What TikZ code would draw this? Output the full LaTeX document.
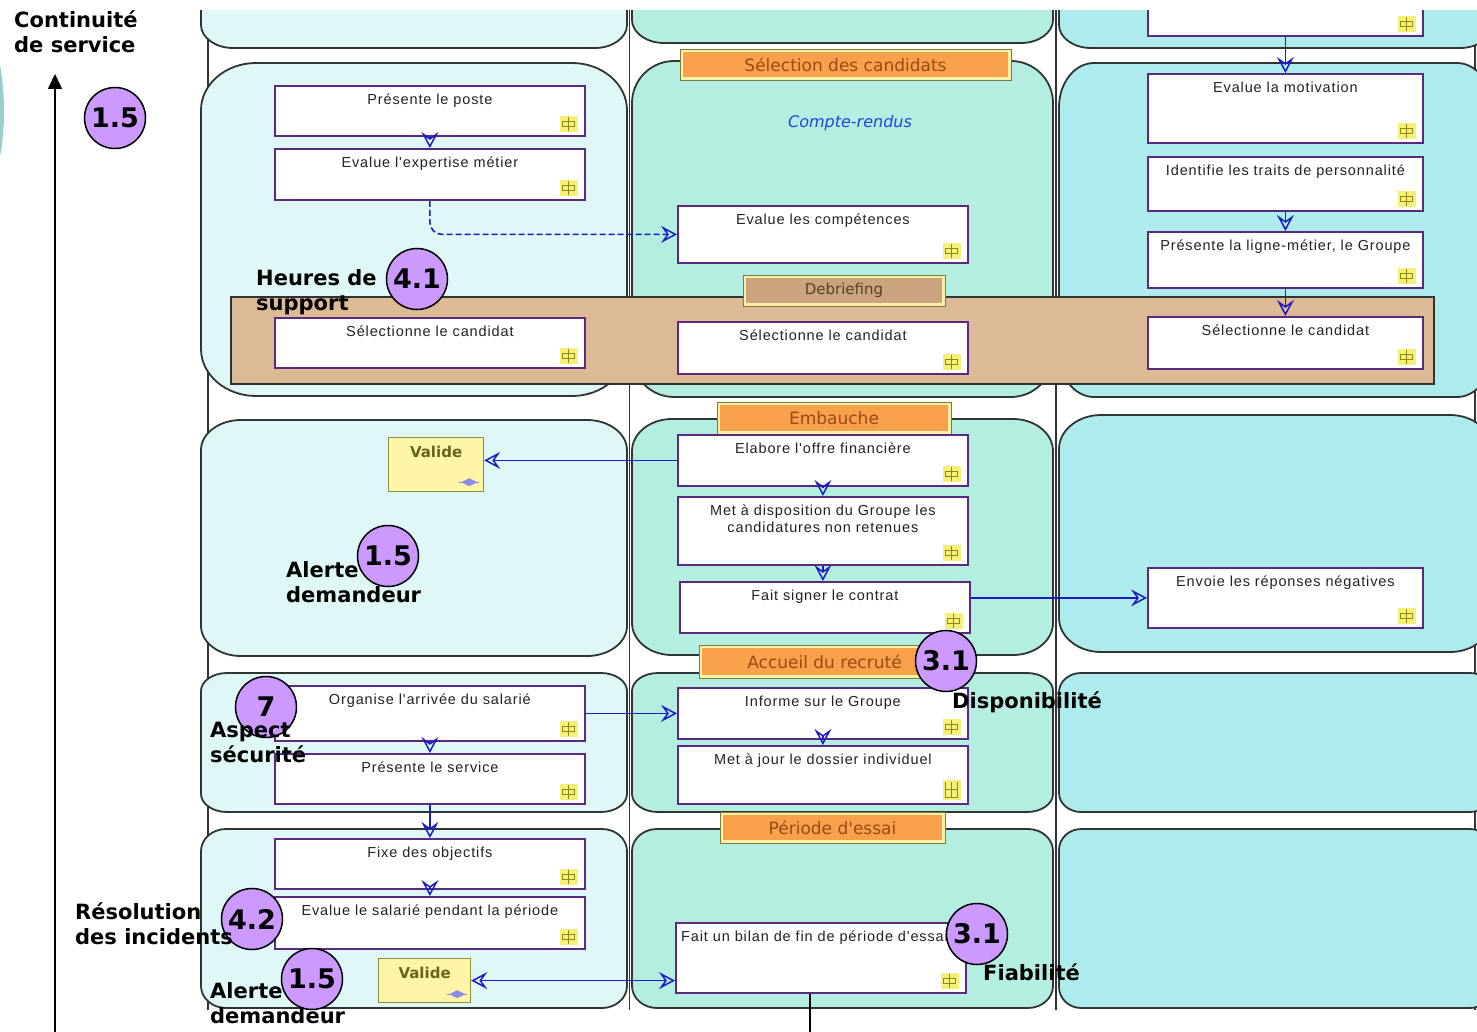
\documentclass[tikz,border=0pt]{standalone}
\usepackage{fontspec}
\setmainfont{Liberation Sans}
\newfontfamily\vera{DejaVu Sans}
\newfontfamily\boxfont[LetterSpace=6]{Liberation Sans}
\usetikzlibrary{arrows.meta}

\definecolor{laneA}{HTML}{DFF7F7}
\definecolor{laneB}{HTML}{B3EEE1}
\definecolor{laneC}{HTML}{AEEBEC}
\definecolor{cellline}{HTML}{2F3535}
\definecolor{bandfill}{HTML}{DDBA96}
\definecolor{actline}{HTML}{5A2A80}
\definecolor{acttextc}{HTML}{222222}
\definecolor{flowblue}{HTML}{1C1CC4}
\definecolor{icofill}{HTML}{F6F07A}
\definecolor{icoline}{HTML}{8C8A10}
\definecolor{hdrframe}{HTML}{FBF1A6}
\definecolor{hdrline}{HTML}{7A7A3A}
\definecolor{hdrorange}{HTML}{F8A04C}
\definecolor{hdrtext}{HTML}{9A4A14}
\definecolor{debfill}{HTML}{C9A47E}
\definecolor{debtext}{HTML}{5A3E22}
\definecolor{validefill}{HTML}{FFF5A6}
\definecolor{valideline}{HTML}{8E8E40}
\definecolor{validetext}{HTML}{66661A}
\definecolor{validicon}{HTML}{8C8CF0}
\definecolor{badgefill}{HTML}{CC99FF}
\definecolor{notetext}{HTML}{2244DD}
\definecolor{edgeteal}{HTML}{9ACFCF}

% rounded cell with elliptic corners: style, x1, y1, x2, y2, rx, ry
\newcommand\lanecell[7]{%
  \draw[#1] (#2+#6,#3) -- (#4-#6,#3)
    .. controls (#4-0.45*#6,#3) and (#4,#3+0.45*#7) .. (#4,#3+#7)
    -- (#4,#5-#7)
    .. controls (#4,#5-0.45*#7) and (#4-0.45*#6,#5) .. (#4-#6,#5)
    -- (#2+#6,#5)
    .. controls (#2+0.45*#6,#5) and (#2,#5-0.45*#7) .. (#2,#5-#7)
    -- (#2,#3+#7)
    .. controls (#2,#3+0.45*#7) and (#2+0.45*#6,#3) .. (#2+#6,#3) -- cycle;}

\tikzset{
  pics/tag/.style={code={
    \fill[icofill] (-9,-8) rectangle (9,8);
    \draw[icoline,line width=1.3pt] (-6,-2.5) rectangle (6,2.5) (0,-7) -- (0,7);}},
  pics/tagmulti/.style={code={
    \fill[icofill] (-9,-10) rectangle (9,10);
    \draw[icoline,line width=1.3pt] (-6,-8) -- (-6,8) -- (6,8) -- (6,-8) (-6,0) -- (6,0) (0,-8) -- (0,8);}},
  pics/vtag/.style={code={
    \fill[validicon] (-8,0) -- (0,-4) -- (8,0) -- (0,4) -- cycle;
    \draw[validicon,line width=1pt] (-10,0) -- (10,0);}}
}

\begin{document}
\begin{tikzpicture}[x=1pt,y=-1pt,
  >={Stealth[open,length=16pt,width=17pt,inset=6pt,line width=1.5pt]},
  cellA/.style={draw=cellline,line width=1.8pt,fill=laneA},
  cellB/.style={draw=cellline,line width=1.8pt,fill=laneB},
  cellC/.style={draw=cellline,line width=1.8pt,fill=laneC},
  divider/.style={draw=cellline,line width=1.3pt},
  band/.style={draw=cellline,line width=1.8pt,fill=bandfill},
  act/.style={draw=actline,fill=white,line width=1.8pt,anchor=north west,inner sep=0pt},
  acttext/.style={anchor=north,yshift=-9pt,inner sep=0pt,
    font=\boxfont\fontsize{14.5}{17}\selectfont,text=acttextc,align=center},
  hdr/.style={draw=hdrline,fill=hdrframe,line width=0.9pt,inner sep=0pt,
    font=\vera\fontsize{17}{19}\selectfont,text=hdrtext,
    path picture={\fill[#1] ([shift={(3pt,-3pt)}]path picture bounding box.north west)
      rectangle ([shift={(-3pt,3pt)}]path picture bounding box.south east);}},
  hdr/.default=hdrorange,
  valide/.style={draw=valideline,fill=validefill,line width=1.2pt,anchor=north west,inner sep=0pt},
  validetxt/.style={anchor=north,yshift=-9pt,inner sep=0pt,
    font=\vera\bfseries\fontsize{15}{17}\selectfont,text=validetext},
  flow/.style={draw=flowblue,line width=1.6pt,->},
  badge/.style={circle,draw=black,line width=1.5pt,fill=badgefill,minimum size=61pt,inner sep=0pt,
    font=\vera\bfseries\fontsize{27}{27}\selectfont},
  remark/.style={anchor=north west,inner sep=0pt,align=left,
    font=\vera\bfseries\fontsize{21}{25}\selectfont}]

\useasboundingbox (0,0) rectangle (1477,1032);

% teal rim at the left edge
\begin{scope}
  \clip (0,0) rectangle (1477,1032);
  \fill[edgeteal] (-262,111) circle (266pt);
\end{scope}

% ---------- swimlane grid ----------
\begin{scope}
  \clip (0,11) rectangle (1477,1032);
  \draw[divider] (208,0) -- (208,1010);
  \draw[divider] (629.5,0) -- (629.5,1010);
  \draw[divider] (1056,0) -- (1056,1010);
  \draw[divider] (1475,0) -- (1475,1010);

  % lane 1
  \lanecell{cellA}{201}{-60}{627}{48}{32}{23}
  \lanecell{cellA}{201}{63}{627}{396}{55}{47}
  \lanecell{cellA}{201}{420}{627}{656}{40}{30}
  \lanecell{cellA}{201}{673}{627}{812}{26}{18}
  \lanecell{cellA}{201}{829}{627}{1008}{25}{22}
  % lane 2
  \lanecell{cellB}{632}{-60}{1053}{43}{32}{23}
  \lanecell{cellB}{632}{61}{1053}{397}{42}{42}
  \lanecell{cellB}{632}{419}{1053}{655}{40}{32}
  \lanecell{cellB}{632}{673}{1053}{812}{26}{18}
  \lanecell{cellB}{632}{829}{1053}{1008}{25}{22}
  % lane 3
  \lanecell{cellC}{1059}{-60}{1492}{48}{32}{23}
  \lanecell{cellC}{1059}{63}{1492}{397}{35}{44}
  \lanecell{cellC}{1059}{415}{1492}{652}{42}{34}
  \lanecell{cellC}{1059}{673}{1492}{812}{22}{19}
  \lanecell{cellC}{1059}{829}{1492}{1008}{22}{21}

  % selection band
  \draw[band] (231,297) rectangle (1434,384);

  % phase headers
  \node[hdr,minimum width=331pt,minimum height=31pt] (h1) at (845.5,64.5) {Sélection des candidats};
  \node[hdr=debfill,minimum width=202pt,minimum height=31pt,text=debtext,
        font=\vera\fontsize{15}{17}\selectfont] (h2) at (844,290.5) {Debriefing};
  \node[hdr,minimum width=234pt,minimum height=32pt] (h3) at (834,418) {Embauche};
  \node[hdr,minimum width=251pt,minimum height=33pt] (h4) at (824.5,661.5) {Accueil du recruté};
  \node[hdr,minimum width=225pt,minimum height=31pt] (h5) at (832.5,827.5) {Période d'essai};

  \node[inner sep=0pt,text=notetext,font=\vera\itshape\fontsize{16}{18}\selectfont] (cr) at (850,123) {Compte-rendus};

  % lane 1 activities
  \node[act,minimum width=310pt,minimum height=50pt,label={[acttext]north:Présente le poste}] (p1) at (274,85) {};
  \node[act,minimum width=310pt,minimum height=51pt,label={[acttext]north:Evalue l'expertise métier}] (p2) at (274,148) {};
  \node[act,minimum width=310pt,minimum height=50pt,label={[acttext]north:Sélectionne le candidat}] (p3) at (274,317) {};
  \node[valide,minimum width=95pt,minimum height=54pt,label={[validetxt]north:Valide}] (v1) at (388,437) {};
  \node[act,minimum width=310pt,minimum height=55pt,label={[acttext]north:Organise l'arrivée du salarié}] (p4) at (274,685) {};
  \node[act,minimum width=310pt,minimum height=50pt,label={[acttext]north:Présente le service}] (p5) at (274,753) {};
  \node[act,minimum width=310pt,minimum height=50pt,label={[acttext]north:Fixe des objectifs}] (p6) at (274,838) {};
  \node[act,minimum width=310pt,minimum height=52pt,label={[acttext]north:Evalue le salarié pendant la période}] (p7) at (274,896) {};
  \node[valide,minimum width=92pt,minimum height=44pt,label={[validetxt]north:Valide}] (v2) at (378,958) {};

  % lane 2 activities
  \node[act,minimum width=290pt,minimum height=57pt,label={[acttext]north:Evalue les compétences}] (m1) at (677,205) {};
  \node[act,minimum width=290pt,minimum height=52pt,label={[acttext]north:Sélectionne le candidat}] (m2) at (677,321) {};
  \node[act,minimum width=290pt,minimum height=51pt,label={[acttext]north:Elabore l'offre financière}] (m3) at (677,434) {};
  \node[act,minimum width=290pt,minimum height=68pt,
        label={[acttext]north:{Met à disposition du Groupe les\\candidatures non retenues}}] (m4) at (677,496) {};
  \node[act,minimum width=290pt,minimum height=51pt,label={[acttext]north:Fait signer le contrat}] (m5) at (679,581) {};
  \node[act,minimum width=290pt,minimum height=51pt,label={[acttext]north:Informe sur le Groupe}] (m6) at (677,687) {};
  \node[act,minimum width=290pt,minimum height=58pt,label={[acttext]north:Met à jour le dossier individuel}] (m7) at (677,745) {};
  \node[act,minimum width=290pt,minimum height=70pt,
        label={[acttext,anchor=north west,xshift=6pt]north west:Fait un bilan de fin de période d'essai}] (m8) at (675,922) {};

  % lane 3 activities
  \node[act,minimum width=275pt,minimum height=50pt] (q0) at (1147,-15) {};
  \node[act,minimum width=275pt,minimum height=69pt,label={[acttext]north:Evalue la motivation}] (q1) at (1147,73) {};
  \node[act,minimum width=275pt,minimum height=54pt,label={[acttext]north:Identifie les traits de personnalité}] (q2) at (1147,156) {};
  \node[act,minimum width=275pt,minimum height=56pt,label={[acttext]north:{Présente la ligne-métier, le Groupe}}] (q3) at (1147,231) {};
  \node[act,minimum width=275pt,minimum height=52pt,label={[acttext]north:Sélectionne le candidat}] (q4) at (1147,316) {};
  \node[act,minimum width=275pt,minimum height=60pt,label={[acttext]north:Envoie les réponses négatives}] (q5) at (1147,567) {};

  % activity markers
  \foreach \b in {p1,p2,p3,p4,p5,p6,p7,m1,m2,m3,m4,m5,m6,m8,q0,q1,q2,q3,q4,q5}
    \pic at ([shift={(-17pt,13pt)}]\b.south east) {tag};
  \pic at ([shift={(-17pt,15pt)}]m7.south east) {tagmulti};
  \pic at ([shift={(-15pt,10pt)}]v1.south east) {vtag};
  \pic at ([shift={(-14pt,9pt)}]v2.south east) {vtag};

  % flows
  \draw[flow] (p1.south) -- (p2.north);
  \draw[flow,dashed,dash pattern=on 6pt off 3pt,rounded corners=12pt] (p2.south) |- (m1.west);
  \draw[flow] (m3.west) -- (m3.west -| v1.east);
  \draw[flow] (m3.south) -- (m4.north);
  \draw[flow] (m4.south) -- (m4.south |- m5.north);
  \draw[flow] (m5.east |- q5.west) -- (q5.west);
  \draw[flow] (p4.east) -- (m6.west);
  \draw[flow] (p4.south) -- (p5.north);
  \draw[flow] (m6.south) -- (m7.north);
  \draw[flow] (p5.south) -- (p6.north);
  \draw[flow] (p6.south) -- (p7.north);
  \draw[flow,<->] (v2.east) -- (v2.east -| m8.west);
  \draw[flow] (q0.south) -- (q1.north);
  \draw[flow] (q2.south) -- (q3.north);
  \draw[flow] (q3.south) -- (q4.north);
  \coordinate (bilanout) at (810,1040);
  \draw[black,line width=1.4pt] (m8.south -| bilanout) -- (bilanout);
\end{scope}

% ---------- quality axis ----------
\coordinate (axbot) at (55,1040);
\coordinate (axtop) at (55,74);
\draw[line width=1.6pt,-{Triangle[length=15pt,width=14pt]}] (axbot) -- (axtop);

% ---------- criteria badges ----------
\node[badge] (b1) at (115,118) {1.5};
\node[badge] (b2) at (417,279) {4.1};
\node[badge] (b3) at (388,556) {1.5};
\node[badge] (b4) at (946,661) {3.1};
\node[badge] (b5) at (266,707) {7};
\node[badge] (b6) at (252,919) {4.2};
\node[badge] (b7) at (312,979) {1.5};
\node[badge] (b8) at (977,934) {3.1};

% ---------- criteria labels ----------
\node[remark] (t1) at (14,11) {Continuité\\de service};
\node[remark] (t2) at (256,269) {Heures de\\support};
\node[remark] (t3) at (286,561) {Alerte\\demandeur};
\node[remark] (t4) at (952,691) {Disponibilité};
\node[remark] (t5) at (210,722) {Aspect\\sécurité};
\node[remark] (t6) at (75,902) {Résolution\\des incidents};
\node[remark] (t7) at (210,982) {Alerte\\demandeur};
\node[remark] (t8) at (983,963) {Fiabilité};
\end{tikzpicture}
\end{document}
